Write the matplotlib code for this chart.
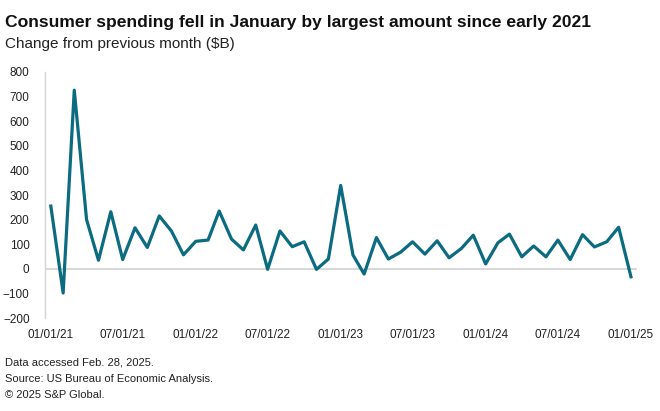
import numpy as np
import pandas as pd
import matplotlib
matplotlib.use('Agg')
import matplotlib.pyplot as plt
import matplotlib.dates as mdates

# Monthly change in consumer spending, $B (Jan 2021 - Jan 2025)
months = pd.date_range("2021-01-01", "2025-01-01", freq="MS")
change = [
    255, -98, 726, 200, 35, 232, 38, 167, 87, 215, 153, 57,
    112, 117, 235, 121, 77, 178, -2, 154, 90, 110, -2, 40,
    339, 56, -21, 127, 40, 68, 110, 60, 114, 45, 83, 137,
    20, 106, 141, 49, 93, 49, 117, 38, 139, 89, 110, 169,
    -32,
]
yticks = list(range(-200, 801, 100))
xtick_dates = pd.date_range("2021-01-01", "2025-01-01", freq="6MS")

plt.rcParams['font.family'] = ['Liberation Sans', 'DejaVu Sans']

fig = plt.figure(figsize=(6.6, 4.11), dpi=100)
ax = fig.add_axes([0.068, 0.226, 0.897, 0.599])

ax.plot(months, change, color="#0b6b80", linewidth=2.3)
ax.axhline(0, color="#d4d4d4", linewidth=1.3, zorder=0)

ax.set_ylim(-200, 800)
ax.set_yticks(yticks)
ax.set_xlim(months[0] - pd.Timedelta(days=15), months[-1] + pd.Timedelta(days=15))
ax.set_xticks(xtick_dates)
ax.xaxis.set_major_formatter(mdates.DateFormatter("%m/%d/%y"))

for side in ["top", "right", "bottom"]:
    ax.spines[side].set_visible(False)
ax.spines["left"].set_color("#d4d4d4")
ax.spines["left"].set_linewidth(1.0)
ax.tick_params(axis="both", length=0, labelsize=8.5, colors="#222222")
ax.tick_params(axis="y", pad=11)
ax.tick_params(axis="x", pad=8)

fig.text(0.008, 0.945, "Consumer spending fell in January by largest amount since early 2021",
         fontsize=12.6, fontweight="bold", color="#111111", va="center")
fig.text(0.008, 0.893, "Change from previous month ($B)", fontsize=11,
         color="#222222", va="center")

notes = ["Data accessed Feb. 28, 2025.",
         "Source: US Bureau of Economic Analysis.",
         "\u00a9 2025 S&P Global."]
for i, line in enumerate(notes):
    fig.text(0.008, 0.118 - i * 0.04, line, fontsize=8, color="#222222", va="center")

fig.savefig("out.png", dpi=100)
